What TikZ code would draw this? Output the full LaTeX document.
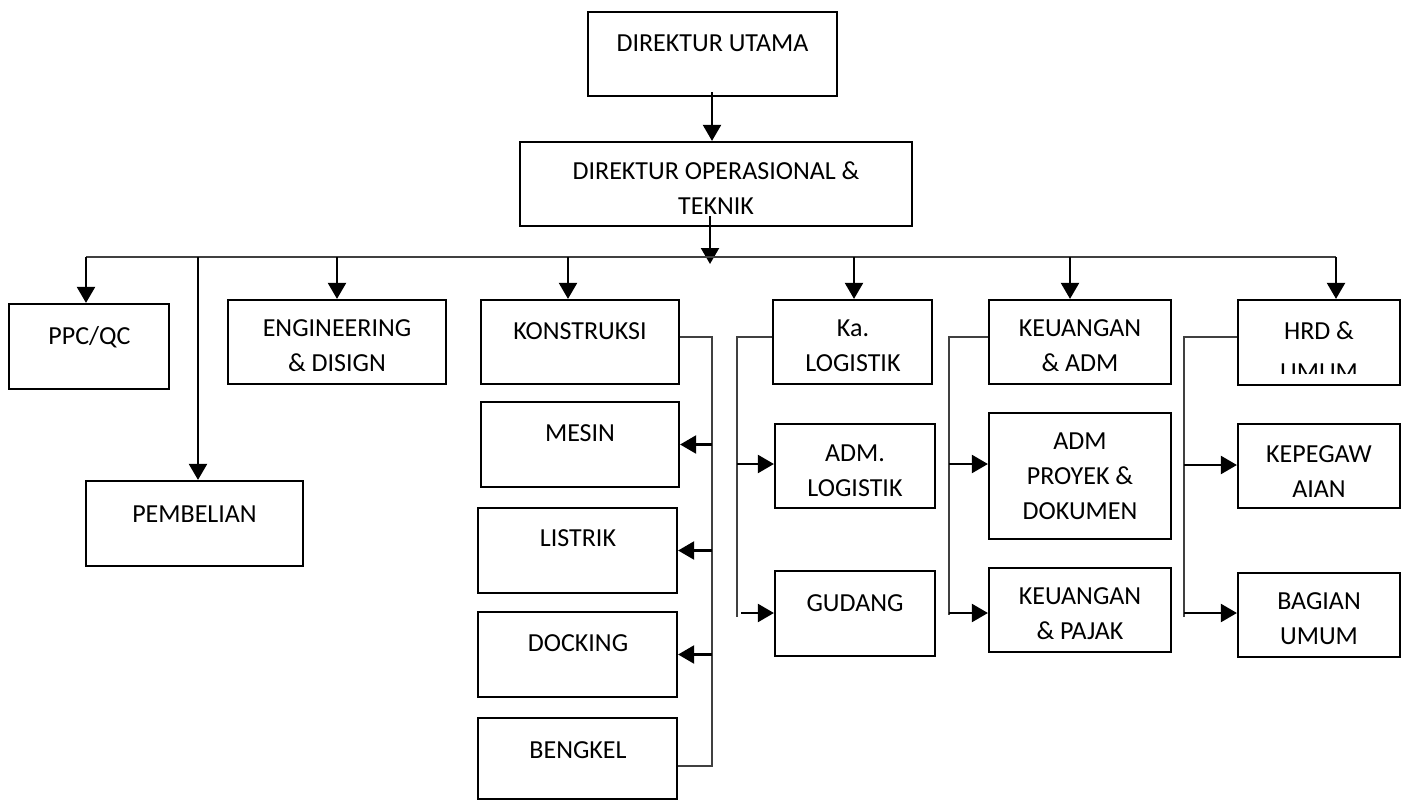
\documentclass[tikz,border=0pt]{standalone}
\usepackage{fontspec}
\setmainfont{Carlito}
\usetikzlibrary{arrows.meta}
\begin{document}
\begin{tikzpicture}[x=1pt,y=-1pt,
  box/.style={draw=black,line width=2.2pt,minimum width=#1,inner sep=0pt},
  txt/.style={align=center,font=\fontsize{26}{35}\selectfont,text depth=0pt,inner sep=0pt},
  arr/.style={line width=2.2pt,-{Triangle[length=16pt,width=18pt]}},
  thin/.style={line width=1.1pt,draw=black!75},
  drop/.style={line width=2pt}]
\useasboundingbox (0,0) rectangle (1405,800);
% boxes
\node[box=249pt,minimum height=84pt] (du) at (712.5,54) {};
\node[box=392pt,minimum height=84pt] (dop) at (716,184) {};
\node[box=160pt,minimum height=85pt] (ppc) at (89,346.5) {};
\node[box=217pt,minimum height=85pt] (pemb) at (194.5,523.5) {};
\node[box=218pt,minimum height=84pt] (eng) at (337,342) {};
\node[box=198pt,minimum height=84pt] (kon) at (580,342) {};
\node[box=198pt,minimum height=85pt] (mesin) at (580,444.5) {};
\node[box=199pt,minimum height=85pt] (listrik) at (577.5,550.5) {};
\node[box=199pt,minimum height=85pt] (docking) at (577.5,654.5) {};
\node[box=199pt,minimum height=81pt] (bengkel) at (577.5,758.5) {};
\node[box=159pt,minimum height=84pt] (kalog) at (852.5,342) {};
\node[box=160pt,minimum height=84pt] (admlog) at (855,466) {};
\node[box=160pt,minimum height=85pt] (gudang) at (855,613.5) {};
\node[box=182pt,minimum height=84pt] (keu) at (1080,342) {};
\node[box=182pt,minimum height=126pt] (admp) at (1080,476) {};
\node[box=182pt,minimum height=84pt] (keup) at (1080,610) {};
\node[box=162pt,minimum height=85pt] (hrd) at (1319,342.5) {};
\node[box=162pt,minimum height=84pt] (kepeg) at (1319,466) {};
\node[box=162pt,minimum height=84pt] (bagian) at (1319,615) {};
% texts
\node[txt] (tdu) at (712.5,43) {DIREKTUR UTAMA};
\node[txt] (tdop) at (716,188.5) {DIREKTUR OPERASIONAL \&\\TEKNIK};
\node[txt] (tppc) at (89.5,335) {PPC/QC};
\node[txt] (tpemb) at (194.5,514) {PEMBELIAN};
\node[txt] (teng) at (337,345.5) {ENGINEERING\\\& DISIGN};
\node[txt] (tkon) at (580,331) {KONSTRUKSI};
\node[txt] (tmesin) at (580,433) {MESIN};
\node[txt] (tlistrik) at (578,538) {LISTRIK};
\node[txt] (tdocking) at (578,643) {DOCKING};
\node[txt] (tbengkel) at (578,750) {BENGKEL};
\node[txt] (tkalog) at (853,345.5) {Ka.\\LOGISTIK};
\node[txt] (tadmlog) at (855,470.5) {ADM.\\LOGISTIK};
\node[txt] (tgudang) at (855,603) {GUDANG};
\node[txt] (tkeu) at (1080,345.5) {KEUANGAN\\\& ADM};
\node[txt] (tadmp) at (1080,476) {ADM\\PROYEK \&\\DOKUMEN};
\node[txt] (tkeup) at (1080,613.5) {KEUANGAN\\\& PAJAK};
\begin{scope}
\clip (1238,300) rectangle (1400,373);
\node[txt] (thrd) at (1319,351) {HRD \&\\[6pt]UMUM};
\end{scope}
\node[txt] (tkepeg) at (1319,471.5) {KEPEGAW\\AIAN};
\node[txt] (tbagian) at (1319,618.5) {BAGIAN\\UMUM};
% top arrows
\coordinate (dus) at (712,92);
\draw[arr] (dus) -- (dus |- dop.north);
\coordinate (dops) at (710,216);
\coordinate (busc) at (710,264);
\draw[arr] (dops) -- (busc);
% bus
\coordinate (bl) at (86,257);
\coordinate (br) at (1336,257);
\draw[thin] (bl) -- (br);
\draw[arr] (bl) -- (bl |- ppc.north);
\coordinate (bp) at (198,257);
\draw[arr] (bp) -- (bp |- pemb.north);
\coordinate (be) at (337,257);
\draw[arr] (be) -- (be |- eng.north);
\coordinate (bk) at (568,257);
\draw[arr] (bk) -- (bk |- kon.north);
\coordinate (bg) at (854,257);
\draw[arr] (bg) -- (bg |- kalog.north);
\coordinate (bu) at (1070,257);
\draw[arr] (bu) -- (bu |- keu.north);
\draw[arr] (br) -- (br |- hrd.north);
% konstruksi bracket
\coordinate (k1) at (712,337);
\coordinate (k2) at (712,766);
\draw[thin] (kon.east |- k1) -- (k1) -- (k2) -- (bengkel.east |- k2);
\draw[arr] (k1 |- mesin.east) -- (mesin.east);
\draw[arr] (k1 |- listrik.east) -- (listrik.east);
\draw[arr] (k1 |- docking.east) -- (docking.east);
% logistik bracket
\coordinate (l1) at (737,337);
\coordinate (l2) at (737,617);
\draw[thin] (kalog.west |- l1) -- (l1) -- (l2);
\coordinate (la) at (737,464);
\coordinate (lb) at (741,613);
\draw[arr] (la) -- (la -| admlog.west);
\draw[arr] (lb) -- (lb -| gudang.west);
% keuangan bracket
\coordinate (u1) at (949,337);
\coordinate (u2) at (949,615);
\draw[thin] (keu.west |- u1) -- (u1) -- (u2);
\coordinate (ua) at (949,464);
\coordinate (ub) at (949,613);
\draw[arr] (ua) -- (ua -| admp.west);
\draw[arr] (ub) -- (ub -| keup.west);
% hrd bracket
\coordinate (h1) at (1184,337);
\coordinate (h2) at (1184,617);
\draw[thin] (hrd.west |- h1) -- (h1) -- (h2);
\coordinate (ha) at (1184,465);
\coordinate (hb) at (1184,613);
\draw[arr] (ha) -- (ha -| kepeg.west);
\draw[arr] (hb) -- (hb -| bagian.west);
\end{tikzpicture}
\end{document}
